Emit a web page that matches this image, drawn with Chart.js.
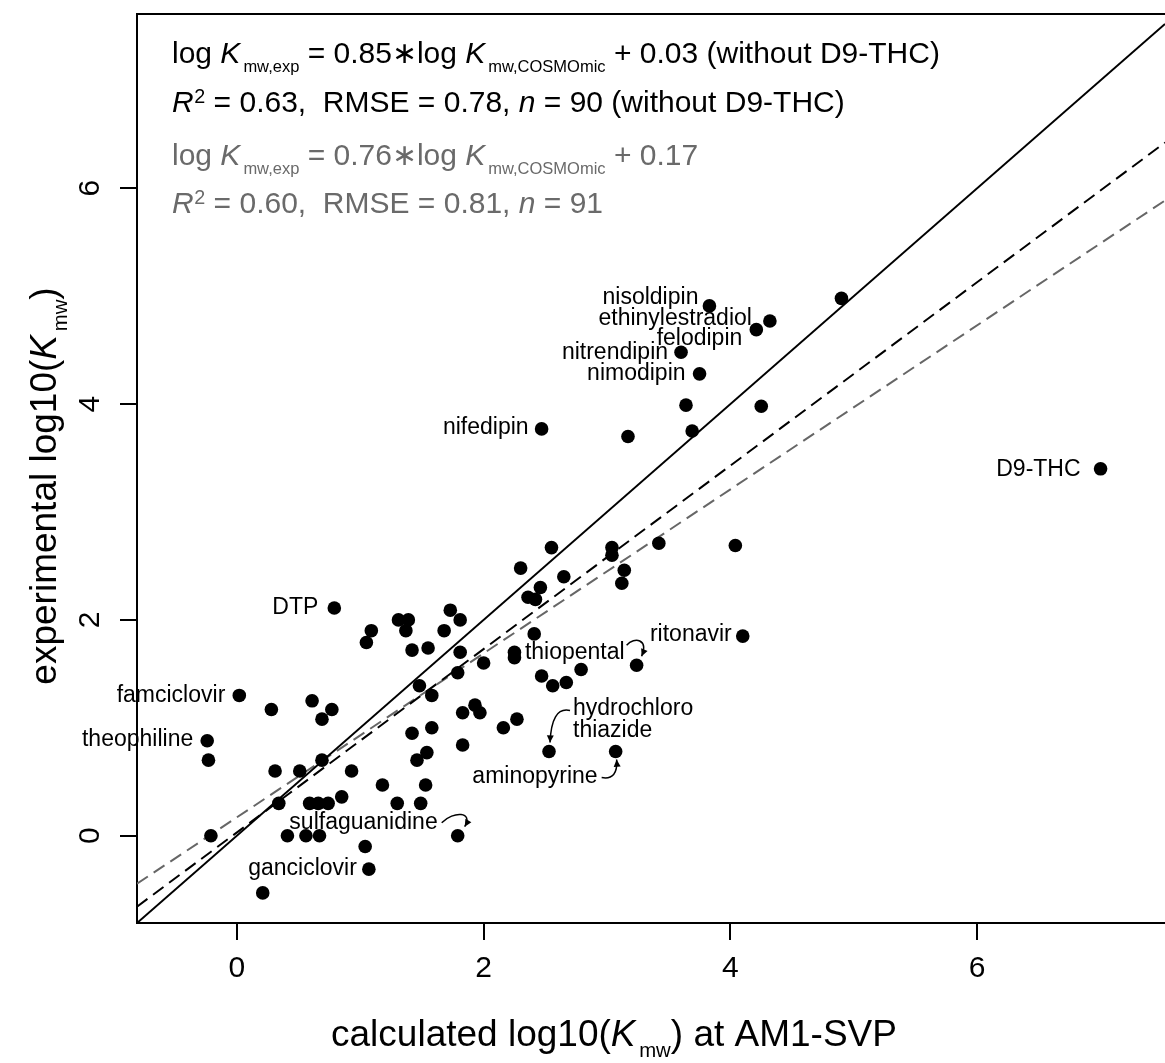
<!DOCTYPE html>
<html>
<head>
<meta charset="utf-8">
<script src="https://cdn.jsdelivr.net/npm/chart.js@4.4.1/dist/chart.umd.min.js"></script>
<style>
  html, body { margin: 0; padding: 0; background: #fff; }
  #wrap { width: 1165px; height: 1063px; }
</style>
</head>
<body>
<div id="wrap"><canvas id="graph" width="1165" height="1063"></canvas></div>
<script>
// Données
const calcLogK = [
  2.30, 0.79, 2.36, 2.42, 1.31, 1.39, 1.73, 1.81, 1.68, 1.09,
  1.05, 1.37, 1.42, 1.55, 1.81, 2.00, 1.79, 1.48, 1.58, 0.02,
  0.28, 0.61, 0.77, 0.69, -0.24, -0.23, 1.83, 1.93, 1.97, 2.16,
  2.27, 1.42, 1.58, 1.83, 1.54, 1.46, 1.53, 1.18, 0.93, 0.69,
  0.31, 0.51, 0.34, 0.59, 0.66, 0.74, 0.85, 1.30, 1.49, -0.21,
  0.41, 0.56, 0.67, 1.79, 1.04, 1.07, 0.21, 2.25, 2.25, 2.65,
  2.46, 3.04, 3.04, 3.14, 3.12, 3.42, 2.55, 2.41, 4.10, 3.24,
  2.79, 2.47, 2.56, 2.67, 2.53, 3.07, 3.83, 4.32, 4.21, 4.90,
  3.60, 3.75, 3.64, 4.25, 2.47, 3.17, 3.69, 4.04, 7.00
];
const expLogK = [
  2.48, 2.11, 2.21, 2.19, 2.00, 2.00, 2.09, 2.00, 1.90, 1.90,
  1.79, 1.90, 1.72, 1.74, 1.70, 1.60, 1.51, 1.39, 1.30, 1.30,
  1.17, 1.25, 1.17, 1.08, 0.88, 0.70, 1.14, 1.21, 1.14, 1.00,
  1.08, 0.95, 1.00, 0.84, 0.77, 0.70, 0.47, 0.47, 0.60, 0.70,
  0.60, 0.60, 0.30, 0.30, 0.30, 0.30, 0.36, 0.30, 0.30, 0.00,
  0.00, 0.00, 0.00, 0.00, -0.10, -0.31, -0.53, 1.70, 1.65, 2.40,
  2.30, 2.67, 2.60, 2.46, 2.34, 2.71, 2.67, 1.87, 1.85, 1.58,
  1.54, 1.48, 1.39, 1.42, 0.78, 0.78, 4.91, 4.77, 4.69, 4.98,
  4.48, 4.28, 3.99, 3.98, 3.77, 3.70, 3.75, 2.69, 3.40
];

// Droites : 1:1, régression sans D9-THC, régression complète
const fitSlopes = [1, 0.85, 0.76];
const fitIntercepts = [0, 0.03, 0.17];

const tickValues = [0, 2, 4, 6];

const labelNames = ['nisoldipin', 'ethinylestradiol', 'felodipin', 'nitrendipin', 'nimodipin',
  'nifedipin', 'D9-THC', 'DTP', 'famciclovir', 'theophiline', 'ganciclovir', 'ritonavir',
  'thiopental', 'sulfaguanidine', 'hydrochloro\nthiazide', 'aminopyrine'];
const labelAtX = [3.83, 4.32, 4.21, 3.60, 3.75, 2.47, 7.00, 0.79, 0.02, -0.24, 1.07, 4.10, 3.24, 1.79, 2.53, 3.07];
const labelAtY = [4.91, 4.77, 4.69, 4.48, 4.28, 3.77, 3.40, 2.11, 1.30, 0.88, -0.31, 1.85, 1.58, 0.00, 0.78, 0.78];

// Mise en page (pixels)
const XMIN = -0.809, XMAX = 7.522, YMIN = -0.809, YMAX = 7.615;
const FONT = '"Liberation Sans", Arial, Helvetica, sans-serif';
const GREY = '#6a6a6a';

// décalages des étiquettes [dx, dy, alignement]
const labelOffsets = [
  [-11, -8, 'right'], [-18, -2, 'right'], [-14, 9, 'right'], [-13, 0, 'right'], [-14, 0, 'right'],
  [-13, -1, 'right'], [-20, 1, 'right'], [-16, 0, 'right'], [-14, 0, 'right'], [-14, -1, 'right'],
  [-12, 0, 'right'], [-11, -1, 'right'], [-12, -13, 'right'], [-20, -13, 'right'], [24, -43, 'left'],
  [-18, 25, 'right']
];
// flèches courbes : index étiquette -> [start, cp1, cp2, end] relatifs au point
const arrows = {
  12: [[-10, -20], [-2, -29], [12, -26], [5, -9]],
  13: [[-16, -13], [-4, -25], [16, -24], [7, -9]],
  14: [[21, -41], [8, -44], [2, -32], [1, -9]],
  15: [[-14, 26], [-3, 28], [2, 22], [1, 8]]
};

function drawRich(ctx, x, y, parts, size, color) {
  let cx = x;
  ctx.fillStyle = color;
  ctx.textBaseline = 'alphabetic';
  ctx.textAlign = 'left';
  for (const [t, k] of parts) {
    let fs = size, dy = 0, style = '';
    if (k === 'i') style = 'italic ';
    if (k === 'sub') { fs = size * 0.55; dy = size * 0.3; cx += size * 0.1; }
    if (k === 'sup') { fs = size * 0.66; dy = -size * 0.3; cx += size * 0.02; }
    ctx.font = style + fs + 'px ' + FONT;
    ctx.fillText(t, cx, y + dy);
    cx += ctx.measureText(t).width;
  }
  return cx - x;
}

function richWidth(ctx, parts, size) {
  ctx.save();
  const w = drawRich(ctx, -10000, -10000, parts, size, 'rgba(0,0,0,0)');
  ctx.restore();
  return w;
}

function arrowHead(ctx, fx, fy, tx, ty) {
  const a = Math.atan2(ty - fy, tx - fx), L = 8, W = 0.45;
  ctx.beginPath();
  ctx.moveTo(tx, ty);
  ctx.lineTo(tx - L * Math.cos(a - W), ty - L * Math.sin(a - W));
  ctx.lineTo(tx - L * Math.cos(a + W), ty - L * Math.sin(a + W));
  ctx.closePath();
  ctx.fill();
}

const decorations = {
  id: 'decorations',
  afterDraw(chart) {
    const ctx = chart.ctx;
    const xs = chart.scales.x, ys = chart.scales.y, area = chart.chartArea;
    ctx.save();

    // cadre haut
    ctx.strokeStyle = '#000';
    ctx.lineWidth = 2;
    ctx.beginPath();
    ctx.moveTo(area.left - 1, area.top);
    ctx.lineTo(chart.width, area.top);
    ctx.stroke();

    // graduations
    ctx.fillStyle = '#000';
    ctx.font = '30px ' + FONT;
    ctx.textAlign = 'center';
    ctx.textBaseline = 'alphabetic';
    tickValues.forEach(v => {
      ctx.fillText(String(v), xs.getPixelForValue(v), 977);
      ctx.save();
      ctx.translate(99, ys.getPixelForValue(v));
      ctx.rotate(-Math.PI / 2);
      ctx.fillText(String(v), 0, 0);
      ctx.restore();
    });

    // titres des axes
    const xTitle = [['calculated log10(', ''], ['K', 'i'], ['mw', 'sub'], [') at AM1-SVP', '']];
    const wx = richWidth(ctx, xTitle, 37);
    drawRich(ctx, 614 - wx / 2, 1046, xTitle, 37, '#000');
    const yTitle = [['experimental log10(', ''], ['K', 'i'], ['mw', 'sub'], [')', '']];
    const wy = richWidth(ctx, yTitle, 37);
    ctx.save();
    ctx.translate(56, 486);
    ctx.rotate(-Math.PI / 2);
    drawRich(ctx, -wy / 2, 0, yTitle, 37, '#000');
    ctx.restore();

    // équations
    const s = 30, tx = 172;
    drawRich(ctx, tx, 63, [['log ', ''], ['K', 'i'], ['mw,exp', 'sub'],
      [' = ' + fitSlopes[1].toFixed(2) + '\u2217log ', ''], ['K', 'i'], ['mw,COSMOmic', 'sub'],
      [' + ' + fitIntercepts[1].toFixed(2) + ' (without D9-THC)', '']], s, '#000');
    drawRich(ctx, tx, 112, [['R', 'i'], ['2', 'sup'], [' = 0.63,  RMSE = 0.78, ', ''], ['n', 'i'],
      [' = 90 (without D9-THC)', '']], s, '#000');
    drawRich(ctx, tx, 165, [['log ', ''], ['K', 'i'], ['mw,exp', 'sub'],
      [' = ' + fitSlopes[2].toFixed(2) + '\u2217log ', ''], ['K', 'i'], ['mw,COSMOmic', 'sub'],
      [' + ' + fitIntercepts[2].toFixed(2), '']], s, GREY);
    drawRich(ctx, tx, 213, [['R', 'i'], ['2', 'sup'], [' = 0.60,  RMSE = 0.81, ', ''], ['n', 'i'],
      [' = 91', '']], s, GREY);

    // étiquettes des composés
    ctx.font = '23px ' + FONT;
    ctx.fillStyle = '#000';
    ctx.textBaseline = 'middle';
    labelNames.forEach((name, i) => {
      const px = xs.getPixelForValue(labelAtX[i]);
      const py = ys.getPixelForValue(labelAtY[i]);
      const [dx, dy, al] = labelOffsets[i];
      ctx.textAlign = al;
      name.split('\n').forEach((ln, j) => ctx.fillText(ln, px + dx, py + dy + j * 22));
      const arr = arrows[i];
      if (arr) {
        const p = arr.map(([ax, ay]) => [px + ax, py + ay]);
        ctx.strokeStyle = '#000';
        ctx.lineWidth = 1.5;
        ctx.beginPath();
        ctx.moveTo(p[0][0], p[0][1]);
        ctx.bezierCurveTo(p[1][0], p[1][1], p[2][0], p[2][1], p[3][0], p[3][1]);
        ctx.stroke();
        arrowHead(ctx, p[2][0], p[2][1], p[3][0], p[3][1]);
      }
    });
    ctx.restore();
  }
};

const fitColors = ['#000', '#000', '#666'];
const fitDash = [[], [13, 7], [13, 7]];
const lineSets = fitSlopes.map((m, i) => ({
  type: 'line',
  data: [{ x: XMIN, y: m * XMIN + fitIntercepts[i] }, { x: XMAX, y: m * XMAX + fitIntercepts[i] }],
  borderColor: fitColors[i],
  borderDash: fitDash[i],
  borderWidth: 2,
  pointRadius: 0,
  fill: false,
  tension: 0,
  order: 2
}));

const chartKmw = new Chart(document.getElementById('graph').getContext('2d'), {
  type: 'scatter',
  data: {
    datasets: [
      {
        label: 'Kmw',
        data: calcLogK.map((v, i) => ({ x: v, y: expLogK[i] })),
        backgroundColor: '#000',
        borderWidth: 0,
        pointRadius: 6.8,
        pointHoverRadius: 6.8,
        order: 1
      },
      ...lineSets
    ]
  },
  options: {
    responsive: false,
    animation: false,
    devicePixelRatio: 1,
    layout: { autoPadding: false, padding: { top: 14, left: 0, right: 0, bottom: 0 } },
    plugins: { legend: { display: false }, tooltip: { enabled: false } },
    scales: {
      x: {
        type: 'linear', min: XMIN, max: XMAX,
        afterBuildTicks: sc => { sc.ticks = tickValues.map(v => ({ value: v })); },
        afterFit: sc => { sc.height = 140; },
        ticks: { display: false },
        grid: { drawOnChartArea: false, drawTicks: true, tickLength: 17, color: '#000', lineWidth: 2 },
        border: { display: true, color: '#000', width: 2 }
      },
      y: {
        type: 'linear', min: YMIN, max: YMAX,
        afterBuildTicks: sc => { sc.ticks = tickValues.map(v => ({ value: v })); },
        afterFit: sc => { sc.width = 137; },
        ticks: { display: false },
        grid: { drawOnChartArea: false, drawTicks: true, tickLength: 17, color: '#000', lineWidth: 2 },
        border: { display: true, color: '#000', width: 2 }
      }
    }
  },
  plugins: [decorations]
});
</script>
</body>
</html>
